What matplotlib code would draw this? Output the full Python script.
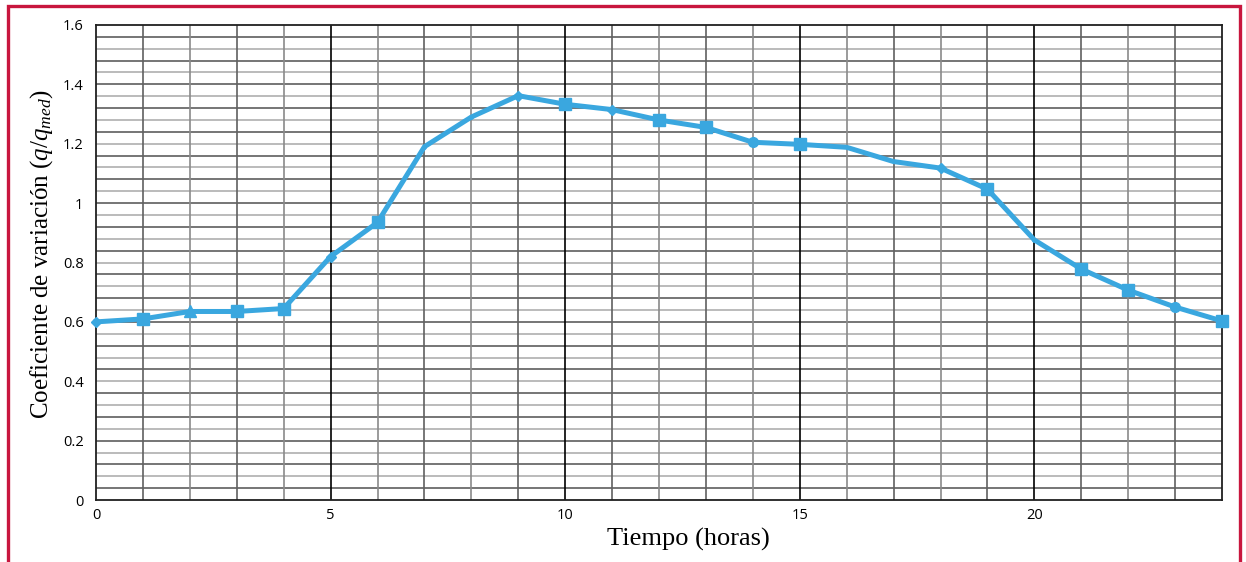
import matplotlib
matplotlib.use("Agg")
import matplotlib.pyplot as plt
from matplotlib.patches import Rectangle
import numpy as np

plt.rcParams['mathtext.fontset'] = 'custom'
plt.rcParams['mathtext.rm'] = 'Liberation Serif'
plt.rcParams['mathtext.it'] = 'Liberation Serif:italic'

hours = list(range(25))
coef = [0.60, 0.61, 0.635, 0.635, 0.645, 0.82, 0.935, 1.19, 1.29, 1.362, 1.333, 1.315,
        1.28, 1.255, 1.205, 1.198, 1.188, 1.14, 1.118, 1.047, 0.876, 0.778, 0.707, 0.65, 0.603]
markers = ['D', 's', '^', 's', 's', 'D', 's', '.', '.', 'D', 's', 'D',
           's', 's', 'o', 's', '', '', 'D', 's', '.', 's', 's', 'o', 's']
msizes = {'D': 5, 's': 8.5, '^': 8, 'o': 7, '.': 5, '': 0}

xticks = [0, 5, 10, 15, 20]
yticks = [0, 0.2, 0.4, 0.6, 0.8, 1.0, 1.2, 1.4, 1.6]
ytick_labels = ['0', '0.2', '0.4', '0.6', '0.8', '1', '1.2', '1.4', '1.6']

color = '#3AA7DF'

fig = plt.figure(figsize=(12.46, 5.62), dpi=100)
ax = fig.add_axes([96/1246, 1-500/562, (1222-96)/1246, (500-25)/562])

# grid
for i, yv in enumerate(np.arange(0.04, 1.6, 0.04)):
    c = '#505050' if i % 2 == 0 else '#a8a8a8'
    ax.axhline(yv, color=c, lw=1.1, zorder=1)
for h in range(1, 24):
    if h % 5 == 0:
        ax.axvline(h, color='black', lw=1.2, zorder=1)
    else:
        ax.axvline(h, color='#606060' if h % 2 else '#8a8a8a', lw=1.2, zorder=1)

ax.plot(hours, coef, color=color, lw=3.6, zorder=3, clip_on=False)
for x, y, m in zip(hours, coef, markers):
    if m:
        ax.plot([x], [y], marker=m, ms=msizes[m], color=color, mec=color,
                zorder=4, clip_on=False, ls='none')

ax.set_xlim(0, 24)
ax.set_ylim(0, 1.6)
ax.set_xticks(xticks)
ax.set_xticklabels([str(t) for t in xticks], fontsize=10.5, family='Open Sans')
ax.set_yticks(yticks)
ax.set_yticklabels(ytick_labels, fontsize=10.5, family='Open Sans')
ax.tick_params(length=0, pad=9)
ax.tick_params(axis='x', pad=6)
for s in ax.spines.values():
    s.set_color('#202020')
    s.set_linewidth(1.3)

ax.set_xlabel('Tiempo (horas)', family='Liberation Serif', fontsize=19)
ax.xaxis.set_label_coords((688-96)/1126, (500-539)/475)
ax.xaxis.label.set_va('center')
ax.set_ylabel(r'Coeficiente de variación ($q/q_{med}$)', family='Liberation Serif',
              fontsize=18)
ax.yaxis.set_label_coords((42-96)/1126, (500-254)/475)
ax.yaxis.label.set_va('center')

# crimson frame
fig.patches.append(Rectangle((8/1246, -0.05), (1240-8)/1246, 1.05 - 6/562,
                             transform=fig.transFigure, fill=False,
                             edgecolor='#C8163E', lw=2.4))

fig.savefig('out.png', dpi=100)
